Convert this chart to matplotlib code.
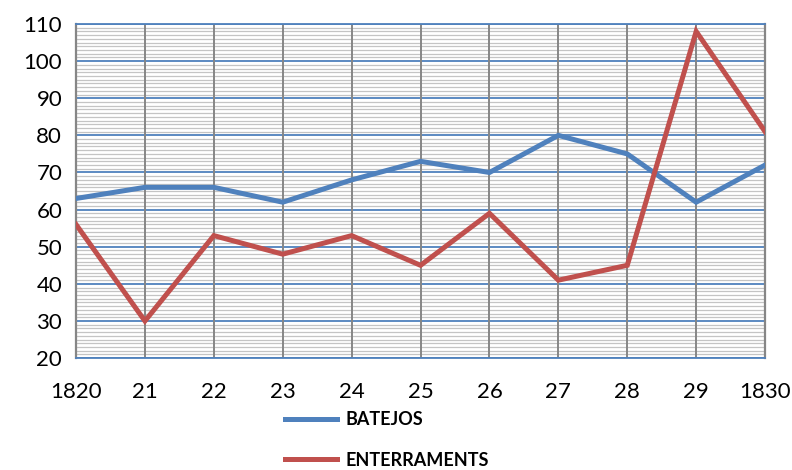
import numpy as np
import matplotlib.pyplot as plt
from matplotlib.ticker import MultipleLocator

years = ['1820', '21', '22', '23', '24', '25', '26', '27', '28', '29', '1830']
batejos = [63, 66, 66, 62, 68, 73, 70, 80, 75, 62, 72]
enterraments = [56, 30, 53, 48, 53, 45, 59, 41, 45, 108, 81]

plt.rcParams['font.family'] = ['Lato', 'DejaVu Sans']

fig = plt.figure(figsize=(7.92, 4.70), dpi=100)
ax = fig.add_axes([0.096, 0.238, 0.870, 0.711])

x = np.arange(len(years))
l1, = ax.plot(x, batejos, color='#4F81BD', lw=3.6, solid_joinstyle='miter', zorder=4, label='BATEJOS')
l2, = ax.plot(x, enterraments, color='#C0504D', lw=3.6, solid_joinstyle='miter', zorder=5, label='ENTERRAMENTS')

ax.set_xlim(0, len(years) - 1)
ax.set_ylim(20, 110)
ax.set_xticks(x)
ax.set_xticklabels(years)
ax.yaxis.set_major_locator(MultipleLocator(10))
ax.yaxis.set_minor_locator(MultipleLocator(1))

ax.grid(which='minor', axis='y', color='#C4C4C4', lw=0.9)
ax.grid(which='major', axis='y', color='#4F81BD', lw=1.3)
# vertical category lines drawn over the minor grid so they stay solid
for xi in x:
    ax.axvline(xi, color='#868686', lw=1.4, zorder=2)

for s in ['left', 'right']:
    ax.spines[s].set_color('#868686')
    ax.spines[s].set_linewidth(1.6)
for s in ['top', 'bottom']:
    ax.spines[s].set_color('#4F81BD')
    ax.spines[s].set_linewidth(1.3)

ax.tick_params(which='both', length=0, labelsize=16, colors='black')
ax.tick_params(axis='x', pad=17)
ax.tick_params(axis='y', pad=10)

fig.legend(handles=[l1, l2], loc='upper left', bbox_to_anchor=(0.36, 0.125),
           frameon=False, handlelength=2.9, handletextpad=0.45, labelspacing=1.3,
           prop={'weight': 'bold', 'size': 13}, borderaxespad=0, borderpad=0)

fig.savefig('out.png', dpi=100)
